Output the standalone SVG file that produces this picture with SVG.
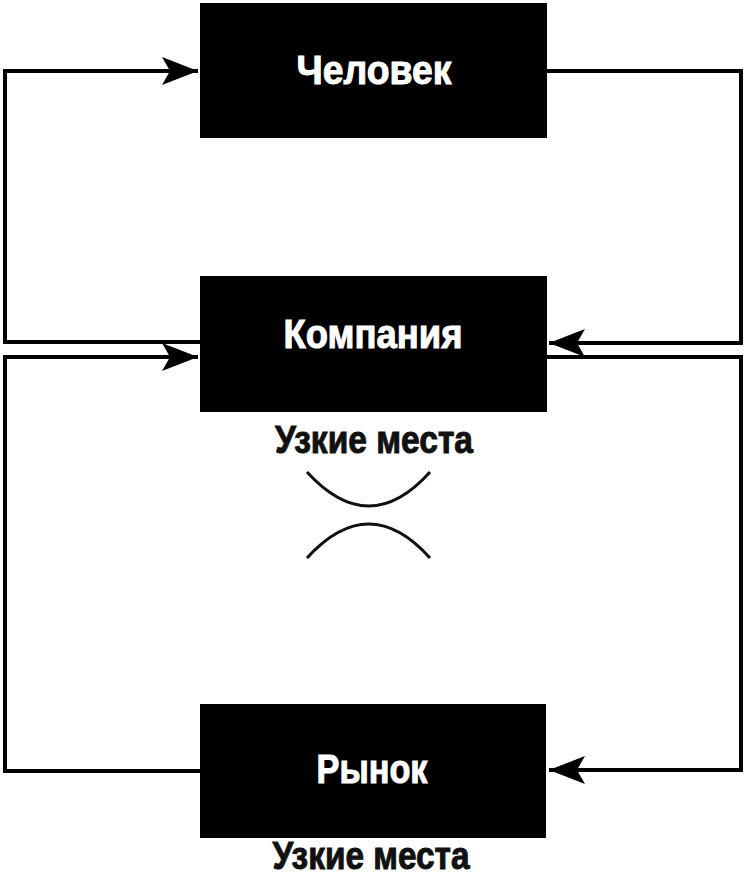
<svg xmlns="http://www.w3.org/2000/svg" width="745" height="878" viewBox="0 0 745 878">
<style>
.box{fill:#000}
.lbl{font-family:"Liberation Sans",Arial,sans-serif;font-weight:bold;font-size:40px;fill:#fff;stroke:#fff;stroke-width:1;text-anchor:middle}
.note{font-family:"Liberation Sans",Arial,sans-serif;font-weight:bold;font-size:39px;fill:#111;stroke:#111;stroke-width:1;text-anchor:middle}
.c{fill:none;stroke:#000;stroke-width:4}
.arc{fill:none;stroke:#111;stroke-width:3}
</style>
<defs>
<marker id="ah" markerWidth="9" markerHeight="7" refX="9" refY="3.5" orient="auto" markerUnits="strokeWidth">
<path d="M0,0 L9,3.5 L0,7 L2,3.5 Z" fill="#000"/>
</marker>
</defs>
<rect width="745" height="878" fill="#fff"/>
<g id="connectors">
<path class="c" d="M200,342 H5 V71 H198" marker-end="url(#ah)"/>
<path class="c" d="M547,71 H741 V343 H549" marker-end="url(#ah)"/>
<path class="c" d="M200,771 H5 V357 H198" marker-end="url(#ah)"/>
<path class="c" d="M547,357 H741 V770 H549" marker-end="url(#ah)"/>
</g>
<g id="node-chelovek">
<rect class="box" x="200" y="3" width="347" height="135"/>
<text class="lbl" x="374" y="84" textLength="155" lengthAdjust="spacingAndGlyphs">Человек</text>
</g>
<g id="node-kompaniya">
<rect class="box" x="200" y="276" width="347" height="136"/>
<text class="lbl" x="373" y="348" textLength="179" lengthAdjust="spacingAndGlyphs">Компания</text>
</g>
<g id="node-rynok">
<rect class="box" x="200" y="704" width="346" height="134"/>
<text class="lbl" x="372" y="783" textLength="111" lengthAdjust="spacingAndGlyphs">Рынок</text>
</g>
<g id="bottleneck-1">
<text class="note" x="374" y="453" textLength="198" lengthAdjust="spacingAndGlyphs">Узкие места</text>
<path class="arc" d="M307,472 Q369,540 430,472"/>
<path class="arc" d="M307,558 Q369,490 430,558"/>
</g>
<g id="bottleneck-2">
<text class="note" x="371" y="869" textLength="197" lengthAdjust="spacingAndGlyphs">Узкие места</text>
</g>
</svg>
